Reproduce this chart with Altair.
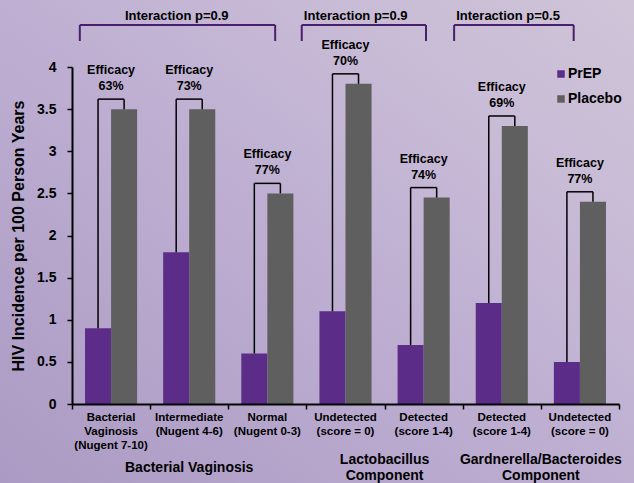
import altair as alt
import pandas as pd

# ---- chart values -------------------------------------------------------
categories = [
    "Bacterial\nVaginosis\n(Nugent 7-10)",
    "Intermediate\n(Nugent 4-6)",
    "Normal\n(Nugent 0-3)",
    "Undetected\n(score = 0)",
    "Detected\n(score 1-4)",
    "Detected\n(score 1-4)",
    "Undetected\n(score = 0)",
]
prep = [0.9, 1.8, 0.6, 1.1, 0.7, 1.2, 0.5]
placebo = [3.5, 3.5, 2.5, 3.8, 2.45, 3.3, 2.4]
efficacy = ["63%", "73%", "77%", "70%", "74%", "69%", "77%"]

group_titles = ["Bacterial Vaginosis", "Lactobacillus\nComponent",
                "Gardnerella/Bacteroides\nComponent"]
group_first = [0, 3, 5]          # first category index in each group
group_last = [2, 4, 6]           # last category index in each group
interaction = ["Interaction p=0.9", "Interaction p=0.9", "Interaction p=0.5"]

series = ["PrEP", "Placebo"]
y_ticks = [0, 0.5, 1, 1.5, 2, 2.5, 3, 3.5, 4]

# ---- styling / annotation placement -------------------------------------
FONT = "Liberation Sans"
PREP_COLOR = "#5b2d88"
PLACEBO_COLOR = "#5f5f5f"
BRACKET_PURPLE = "#4a1f6e"
W, H = 547, 337
PAD = {"left": 72, "top": 67, "right": 15, "bottom": 79}
n = len(categories)
unit = H / 4.0                    # pixels per y unit

# interaction bracket ends and label centres, in category-slot units
bracket_left = [0.10, 2.94, 4.89]
bracket_right = [2.60, 4.53, 6.42]
bracket_label_x = [1.34, 3.63, 5.58]

xs = alt.Scale(domain=[0, n], nice=False, zero=False)
ys = alt.Scale(domain=[0, 4], nice=False)

# ---- tables built from the values ---------------------------------------
bar_rows = []
for i in range(n):
    bar_rows.append({"x": i + 1 / 6, "x2": i + 0.5, "y": prep[i], "series": "PrEP"})
    bar_rows.append({"x": i + 0.5, "x2": i + 5 / 6, "y": placebo[i], "series": "Placebo"})
bars_df = pd.DataFrame(bar_rows)

# efficacy brackets joining each PrEP bar to its placebo bar
lift = 10 / unit
eff_rows, eff_text = [], []
for i in range(n):
    top = placebo[i] + lift
    a, b = i + 1 / 3, i + 2 / 3
    eff_rows += [
        {"x": a, "x2": a, "y": prep[i], "y2": top},
        {"x": a, "x2": b, "y": top, "y2": top},
        {"x": b, "x2": b, "y": placebo[i], "y2": top},
    ]
    eff_text.append({"x": i + 0.5, "y": top, "label": "Efficacy\n" + efficacy[i]})
eff_df = pd.DataFrame(eff_rows)
eff_text_df = pd.DataFrame(eff_text)

# interaction brackets above the groups
b_top = 4 + 42 / unit
b_foot = 4 + 26 / unit
grp_rows, grp_text, grp_title = [], [], []
for g in range(len(group_titles)):
    left, right = bracket_left[g], bracket_right[g]
    grp_rows += [
        {"x": left, "x2": right, "y": b_top, "y2": b_top},
        {"x": left, "x2": left, "y": b_foot, "y2": b_top},
        {"x": right, "x2": right, "y": b_foot, "y2": b_top},
    ]
    grp_text.append({"x": bracket_label_x[g], "y": 4 + 51 / unit, "label": interaction[g]})
    # group titles sit centred on a line 65px below the axis
    lines = group_titles[g].count("\n") + 1
    grp_title.append({"x": (group_first[g] + group_last[g] + 1) / 2,
                      "y": -(65 - 8 * lines) / unit, "label": group_titles[g]})
grp_df = pd.DataFrame(grp_rows)
grp_text_df = pd.DataFrame(grp_text)
grp_title_df = pd.DataFrame(grp_title)

cat_df = pd.DataFrame({"x": [i + 0.5 for i in range(n)], "y": [0] * n, "label": categories})

# ---- layers ---------------------------------------------------------------
background = alt.Chart(pd.DataFrame({"k": [0]})).mark_rect(
    color=alt.LinearGradient(
        gradient="linear", x1=0, y1=1, x2=1, y2=0,
        stops=[
            alt.GradientStop(offset=0, color="#ab9ac3"),
            alt.GradientStop(offset=0.45, color="#bcadd1"),
            alt.GradientStop(offset=0.75, color="#c8bbd6"),
            alt.GradientStop(offset=1, color="#cfc4d8"),
        ],
    )
).encode(
    x=alt.value(-PAD["left"]), x2=alt.value(W + PAD["right"]),
    y=alt.value(-PAD["top"]), y2=alt.value(H + PAD["bottom"]),
)

bars = alt.Chart(bars_df).mark_bar().encode(
    x=alt.X("x:Q", scale=xs, axis=alt.Axis(
        values=list(range(n + 1)), labels=False, title=None, grid=False,
        tickSize=5, zindex=2)),
    x2="x2:Q",
    y=alt.Y("y:Q", scale=ys, axis=alt.Axis(
        values=y_ticks, format="~g", title="HIV Incidence per 100 Person Years",
        grid=False, tickSize=5, labelPadding=11, titlePadding=10, zindex=2)),
    y2=alt.datum(0),
    color=alt.Color("series:N", scale=alt.Scale(domain=series,
                                                range=[PREP_COLOR, PLACEBO_COLOR]),
                    legend=alt.Legend(
                        title=None, orient="none", legendX=482, legendY=0,
                        symbolType="square", symbolSize=56, symbolStrokeWidth=0,
                        labelFont=FONT, labelFontSize=14, labelFontWeight="bold",
                        labelColor="black", rowPadding=11, labelOffset=0,
                        padding=0, zindex=2)),
)

eff_lines = alt.Chart(eff_df).mark_rule(color="black", strokeWidth=1.5).encode(
    x=alt.X("x:Q", scale=xs), x2="x2:Q", y=alt.Y("y:Q", scale=ys), y2="y2:Q")

eff_labels = alt.Chart(eff_text_df).mark_text(
    font=FONT, fontSize=12.5, fontWeight="bold", color="black",
    baseline="top", dy=-35, lineBreak="\n", lineHeight=16,
).encode(x=alt.X("x:Q", scale=xs), y=alt.Y("y:Q", scale=ys), text="label:N")

grp_lines = alt.Chart(grp_df).mark_rule(color=BRACKET_PURPLE, strokeWidth=2).encode(
    x=alt.X("x:Q", scale=xs), x2="x2:Q", y=alt.Y("y:Q", scale=ys), y2="y2:Q")

grp_labels = alt.Chart(grp_text_df).mark_text(
    font=FONT, fontSize=13, fontWeight="bold", color="black", baseline="middle",
).encode(x=alt.X("x:Q", scale=xs), y=alt.Y("y:Q", scale=ys), text="label:N")

cat_labels = alt.Chart(cat_df).mark_text(
    font=FONT, fontSize=11.5, fontWeight="bold", color="black", baseline="top",
    dy=8, lineBreak="\n", lineHeight=14,
).encode(x=alt.X("x:Q", scale=xs), y=alt.Y("y:Q", scale=ys), text="label:N")

grp_titles = alt.Chart(grp_title_df).mark_text(
    font=FONT, fontSize=14, fontWeight="bold", color="black", baseline="top",
    lineBreak="\n", lineHeight=16,
).encode(x=alt.X("x:Q", scale=xs), y=alt.Y("y:Q", scale=ys), text="label:N")

chart = alt.layer(
    background, bars, eff_lines, eff_labels, grp_lines, grp_labels,
    cat_labels, grp_titles,
).properties(
    width=W, height=H, padding=PAD, autosize=alt.AutoSizeParams(type="none"),
    background="#bcaed1",
).configure_view(
    stroke=None
).configure_axis(
    domainColor="black", domainWidth=2, tickColor="black", tickWidth=1.5,
    labelFont=FONT, labelFontSize=14, labelFontWeight="bold", labelColor="black",
    titleFont=FONT, titleFontSize=16, titleFontWeight="bold", titleColor="black",
)

chart.save("out.html", embed_options={"renderer": "svg", "actions": False})
